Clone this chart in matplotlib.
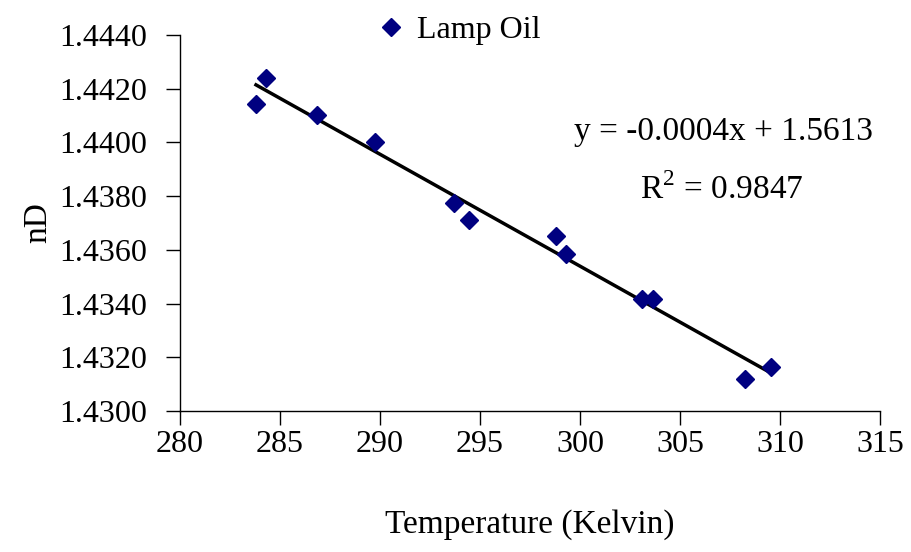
import numpy as np
import matplotlib
matplotlib.use("Agg")
import matplotlib.pyplot as plt

temperature = [283.8, 284.3, 286.85, 289.75, 293.7, 294.45, 298.8, 299.3, 303.1, 303.65, 308.25, 309.55]
nD = [1.44143, 1.44240, 1.44102, 1.44002, 1.43774, 1.43711, 1.43652, 1.43585, 1.43417, 1.43417, 1.43119, 1.43164]
series_label = "Lamp Oil"
eq_text = "y = -0.0004x + 1.5613"
r2_text = "R$^2$ = 0.9847"
xticks = [280, 285, 290, 295, 300, 305, 310, 315]
yticks = [1.4300, 1.4320, 1.4340, 1.4360, 1.4380, 1.4400, 1.4420, 1.4440]

plt.rcParams['font.family'] = ['Liberation Serif', 'DejaVu Serif']
plt.rcParams['mathtext.fontset'] = 'custom'
plt.rcParams['mathtext.rm'] = 'Liberation Serif'

FS = 23

fig = plt.figure(figsize=(9.12, 5.52), dpi=100)
ax = fig.add_axes([180/912, 1-411/552, 700/912, 376/552])

x = np.array(temperature)
y = np.array(nD)
ax.plot(x, y, linestyle='none', marker='D', color='#000080', markersize=9, label=series_label, zorder=3)
coef = np.polyfit(x, y, 1)
xl = np.array([x.min(), x.max()])
ax.plot(xl, np.polyval(coef, xl), color='black', linewidth=2.5, zorder=2)

ax.set_xlim(280, 315)
ax.set_ylim(1.4300, 1.4440)
ax.set_xticks(xticks)
ax.set_yticks(yticks)
ax.set_xticklabels([str(t) for t in xticks])
ax.set_yticklabels([f"{t:.4f}" for t in yticks])
for s in ['top', 'right']:
    ax.spines[s].set_visible(False)
for s in ['left', 'bottom']:
    ax.spines[s].set_linewidth(1.0)
ax.tick_params(axis='both', direction='out', length=10, width=1.0, labelsize=FS, colors='black')
ax.tick_params(axis='x', pad=4)
ax.tick_params(axis='y', pad=14)
ax.set_xlabel("Temperature (Kelvin)", fontsize=24, labelpad=36)
ax.set_ylabel("nD", fontsize=24, labelpad=4)

ax.text(0.776, 0.742, eq_text, transform=ax.transAxes, fontsize=24, ha='center', va='center')
ax.text(0.774, 0.588, r2_text, transform=ax.transAxes, fontsize=24, ha='center', va='center')

leg = ax.legend(loc='upper left', bbox_to_anchor=(0.27, 1.085), frameon=False, fontsize=FS,
                handlelength=0.6, handletextpad=0.5, borderaxespad=0)

fig.savefig("out.png", dpi=100)
